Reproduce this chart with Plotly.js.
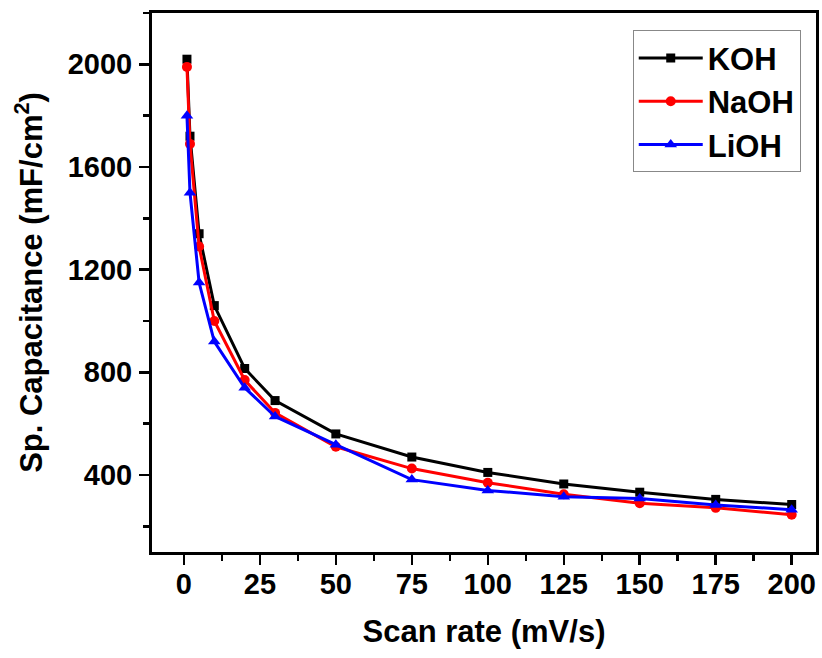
<!DOCTYPE html>
<html>
<head>
<meta charset="utf-8">
<script src="https://cdn.plot.ly/plotly-3.0.1.min.js"></script>
<style>
  html, body { margin: 0; padding: 0; background: #ffffff; }
  #chart { width: 822px; height: 658px; }
</style>
</head>
<body>
<div id="chart"></div>
<script>
// Scan rates (mV/s)
const scanRate = [1, 2, 5, 10, 20, 30, 50, 75, 100, 125, 150, 175, 200];

// Specific capacitance (mF/cm^2) for each electrolyte
const kohCap  = [2020, 1720, 1340, 1060, 815, 690, 560, 470, 410, 365, 333, 305, 285];
const naohCap = [1990, 1690, 1290, 1000, 770, 642, 510, 425, 370, 325, 290, 272, 245];
const liohCap = [1800, 1500, 1150, 920, 740, 628, 518, 382, 340, 315, 308, 283, 265];

const xTickVals = [0, 25, 50, 75, 100, 125, 150, 175, 200];
const yTickVals = [400, 800, 1200, 1600, 2000];

const FONT = 'Liberation Sans, Arial, Helvetica, sans-serif';

function series(name, y, color, symbol, size) {
  return {
    type: 'scatter',
    mode: 'lines+markers',
    name: name,
    x: scanRate,
    y: y,
    line: { color: color, width: 3 },
    marker: { color: color, symbol: symbol, size: size },
    cliponaxis: false
  };
}

const traces = [
  series('KOH', kohCap, '#000000', 'square', 9),
  series('NaOH', naohCap, '#ff0000', 'circle', 10),
  series('LiOH', liohCap, '#0000ff', 'triangle-up', 11)
];

const axisCommon = {
  showline: true,
  linecolor: '#000000',
  linewidth: 3,
  mirror: true,
  ticks: 'outside',
  ticklen: 10,
  tickwidth: 2.5,
  tickcolor: '#000000',
  showgrid: false,
  zeroline: false,
  tickfont: { family: FONT, size: 29, color: '#000000', weight: 'bold' }
};

const layout = {
  width: 822,
  height: 658,
  margin: { l: 152, r: 6, t: 13, b: 106 },
  paper_bgcolor: '#ffffff',
  plot_bgcolor: '#ffffff',
  showlegend: true,
  xaxis: Object.assign({}, axisCommon, {
    range: [-10.5, 208],
    tickmode: 'array',
    tickvals: xTickVals,
    ticktext: xTickVals.map(String),
    ticklabelstandoff: -6,
    minor: { dtick: 12.5, tick0: 0, ticks: 'outside', ticklen: 6, tickwidth: 2.5, tickcolor: '#000000', showgrid: false },
    title: { text: 'Scan rate (mV/s)', font: { family: FONT, size: 31, color: '#000000', weight: 'bold' }, standoff: 22 }
  }),
  yaxis: Object.assign({}, axisCommon, {
    range: [100, 2200],
    tickmode: 'array',
    tickvals: yTickVals,
    ticktext: yTickVals.map(String),
    ticklabelstandoff: 1,
    minor: { dtick: 200, tick0: 0, ticks: 'outside', ticklen: 6, tickwidth: 2.5, tickcolor: '#000000', showgrid: false },
    title: { text: 'Sp. Capacitance (mF/cm<sup>2</sup>)', font: { family: FONT, size: 31, color: '#000000', weight: 'bold' }, standoff: 16 }
  }),
  legend: {
    x: 0.724, y: 0.968,
    xanchor: 'left', yanchor: 'top',
    bgcolor: '#ffffff',
    bordercolor: '#888888',
    borderwidth: 1,
    font: { family: FONT, size: 31, color: '#000000', weight: 'bold' },
    itemwidth: 64,
    tracegroupgap: 0
  }
};

Plotly.newPlot('chart', traces, layout, { displayModeBar: false, staticPlot: true });
</script>
</body>
</html>
